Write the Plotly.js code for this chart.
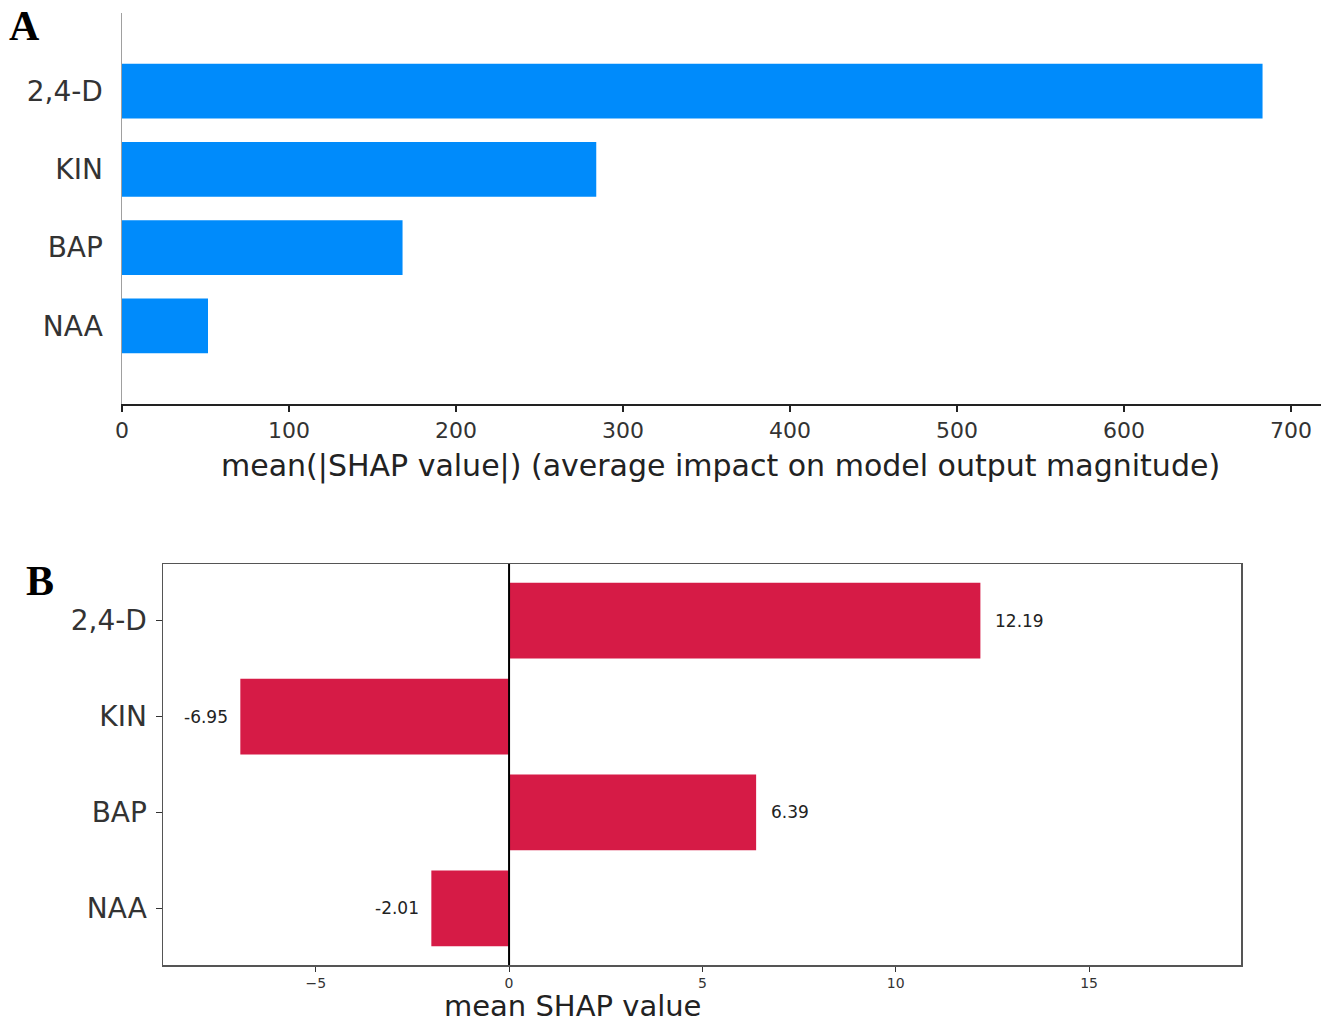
<!DOCTYPE html>
<html>
<head>
<meta charset="utf-8">
<script src="https://cdn.plot.ly/plotly-3.0.1.min.js"></script>
<style>html,body{margin:0;padding:0;background:#fff;}#chart{width:1326px;height:1024px;}</style>
</head>
<body>
<div id="chart"></div>
<script>
// ---- data ----
const features = ['2,4-D', 'KIN', 'BAP', 'NAA'];
const meanAbsShap = [683, 284, 168, 51.5];
const meanShap = [12.19, -6.95, 6.39, -2.01];
const xTicksA = [0, 100, 200, 300, 400, 500, 600, 700];
const xTicksB = [-5, 0, 5, 10, 15];
const xTickTextB = ['\u22125', '0', '5', '10', '15'];

const W = 1326, H = 1024;
const px = v => v / W;
const py = v => 1 - v / H;

const traces = [
  {
    type: 'bar', orientation: 'h',
    x: meanAbsShap, y: features,
    xaxis: 'x', yaxis: 'y',
    width: 0.7,
    marker: {color: '#008bfb', line: {width: 0}},
    hoverinfo: 'x+y'
  },
  {
    type: 'bar', orientation: 'h',
    x: meanShap, y: features,
    xaxis: 'x2', yaxis: 'y2',
    width: 0.79,
    marker: {color: '#d61b46', line: {width: 0}},
    hoverinfo: 'x+y'
  }
];

const valueAnnotations = meanShap.map((v, i) => ({
  x: v, y: features[i], xref: 'x2', yref: 'y2',
  text: v.toFixed(2), showarrow: false,
  xanchor: v >= 0 ? 'left' : 'right',
  xshift: v >= 0 ? 13 : -10,
  font: {family: 'DejaVu Sans', size: 17, color: '#222'}
}));

const layout = {
  width: W, height: H,
  margin: {l: 0, r: 0, t: 0, b: 0},
  paper_bgcolor: '#fff', plot_bgcolor: '#fff',
  showlegend: false,
  font: {family: 'DejaVu Sans', color: '#333'},
  xaxis: {
    domain: [px(122), px(1321)],
    anchor: 'y',
    range: [0, 718],
    tickvals: xTicksA,
    ticks: 'outside', ticklen: 6, tickwidth: 1.5, tickcolor: '#222',
    showline: true, linecolor: '#222', linewidth: 2,
    showgrid: false, zeroline: false,
    tickfont: {family: 'DejaVu Sans', size: 22, color: '#333'}
  },
  yaxis: {
    domain: [py(404), py(13)],
    anchor: 'x',
    type: 'category',
    categoryorder: 'array', categoryarray: features,
    range: [4, -1],
    ticks: '', ticklabelstandoff: 12,
    showline: true, linecolor: '#a0a0a0', linewidth: 1.5,
    showgrid: false, zeroline: false,
    tickfont: {family: 'DejaVu Sans', size: 28, color: '#333'}
  },
  xaxis2: {
    domain: [px(163), px(1241)],
    anchor: 'y2',
    range: [-8.95, 18.93],
    tickvals: xTicksB, ticktext: xTickTextB,
    ticks: 'outside', ticklen: 5, tickwidth: 1, tickcolor: '#333',
    showline: true, mirror: true, linecolor: '#555', linewidth: 1.5,
    showgrid: false, zeroline: false,
    tickfont: {family: 'DejaVu Sans', size: 14, color: '#333'}
  },
  yaxis2: {
    domain: [py(965), py(564)],
    anchor: 'x2',
    type: 'category',
    categoryorder: 'array', categoryarray: features,
    range: [3.59, -0.59],
    ticks: 'outside', ticklen: 6, tickwidth: 1, tickcolor: '#333',
    ticklabelstandoff: 3,
    showline: true, mirror: true, linecolor: '#555', linewidth: 1.5,
    showgrid: false, zeroline: false,
    tickfont: {family: 'DejaVu Sans', size: 28, color: '#333'}
  },
  shapes: [
    {type: 'line', xref: 'x2', yref: 'y2 domain', x0: 0, x1: 0, y0: 0, y1: 1,
     line: {color: '#000', width: 2}, layer: 'above'}
  ],
  annotations: [
    {text: 'mean(|SHAP value|) (average impact on model output magnitude)',
     xref: 'paper', yref: 'paper', x: px(721), y: py(466),
     xanchor: 'center', yanchor: 'middle', showarrow: false,
     font: {family: 'DejaVu Sans', size: 30, color: '#222'}},
    {text: 'mean SHAP value',
     xref: 'paper', yref: 'paper', x: px(572), y: 0,
     xanchor: 'center', yanchor: 'bottom', showarrow: false, borderpad: 0,
     font: {family: 'DejaVu Sans', size: 29, color: '#222'}},
    {text: '<b>A</b>', xref: 'paper', yref: 'paper', x: px(7), y: py(26),
     xanchor: 'left', yanchor: 'middle', showarrow: false,
     font: {family: 'Liberation Serif', size: 42, color: '#000'}},
    {text: '<b>B</b>', xref: 'paper', yref: 'paper', x: px(24), y: py(581),
     xanchor: 'left', yanchor: 'middle', showarrow: false,
     font: {family: 'Liberation Serif', size: 42, color: '#000'}}
  ].concat(valueAnnotations)
};

Plotly.newPlot('chart', traces, layout, {displayModeBar: false, staticPlot: true});
</script>
</body>
</html>
